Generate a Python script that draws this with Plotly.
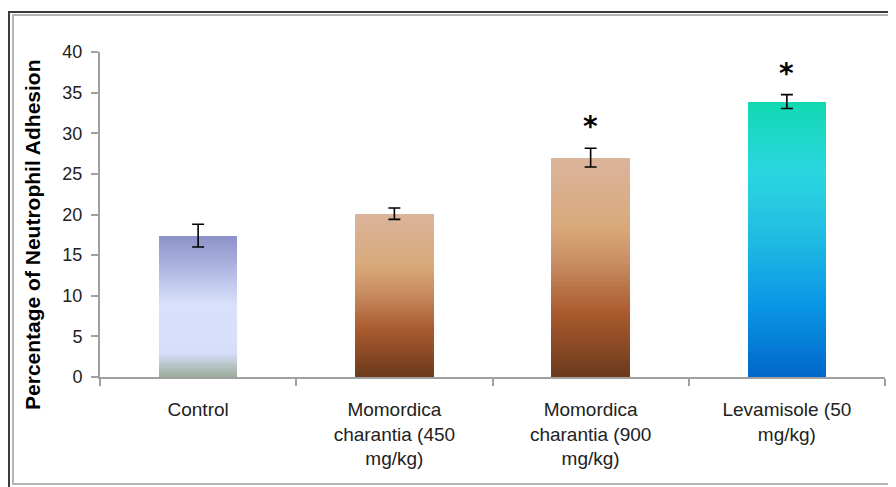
import plotly.graph_objects as go

categories = ["Control",
              "Momordica<br>charantia (450<br>mg/kg)",
              "Momordica<br>charantia (900<br>mg/kg)",
              "Levamisole (50<br>mg/kg)"]
values = [17.4, 20.1, 27.0, 33.9]
errors = [1.4, 0.7, 1.15, 0.85]
significance = ["", "", "*", "*"]
y_ticks = [0, 5, 10, 15, 20, 25, 30, 35, 40]

# gradient stops (fraction of bar height from bottom, colour) per bar
gradients = [
    [(0.0, "#9aac98"), (0.17, "#d6defa"), (0.52, "#d8e0fc"), (0.75, "#b2b9e3"), (1.0, "#8c91c8")],
    [(0.0, "#6b3a1c"), (0.29, "#a95a2e"), (0.515, "#c88c62"), (0.68, "#d9a97a"), (1.0, "#dab49c")],
    [(0.0, "#6b3a1c"), (0.29, "#a95a2e"), (0.515, "#c88c62"), (0.68, "#d9a97a"), (1.0, "#dab49c")],
    [(0.0, "#0068c8"), (0.26, "#0a96e6"), (0.52, "#22bde2"), (0.74, "#2ad6e0"), (1.0, "#12d9b2")],
]


def hex2rgb(h):
    h = h.lstrip("#")
    return tuple(int(h[i:i + 2], 16) for i in (0, 2, 4))


def interp(stops, f):
    for (f0, c0), (f1, c1) in zip(stops[:-1], stops[1:]):
        if f0 <= f <= f1:
            t = (f - f0) / (f1 - f0) if f1 > f0 else 0
            a, b = hex2rgb(c0), hex2rgb(c1)
            r = [round(a[k] + (b[k] - a[k]) * t) for k in range(3)]
            return "rgb(%d,%d,%d)" % tuple(r)
    return stops[-1][1]


N = 60
fig = go.Figure()
for i in range(N):
    f = (i + 0.5) / N
    fig.add_trace(go.Bar(
        x=categories,
        y=[v / N for v in values],
        marker=dict(color=[interp(g, f) for g in gradients], line=dict(width=0)),
        width=0.4,
        showlegend=False,
        hoverinfo="skip",
    ))

fig.add_trace(go.Scatter(
    x=categories, y=values, mode="markers",
    marker=dict(size=1, opacity=0),
    error_y=dict(type="data", array=errors, visible=True,
                 color="black", thickness=1.6, width=6),
    showlegend=False,
))

for c, v, e, s in zip(categories, values, errors, significance):
    if s:
        fig.add_annotation(x=c, y=v + e, text="<b>" + s + "</b>", showarrow=False,
                           yanchor="bottom", yshift=3,
                           font=dict(family="DejaVu Sans", size=28, color="black"))

fig.add_annotation(text="<b>Percentage of Neutrophil Adhesion</b>",
                   xref="paper", yref="paper", x=-0.0854, y=0.437,
                   xanchor="center", yanchor="middle",
                   textangle=-90, showarrow=False,
                   font=dict(family="Liberation Sans, Arial", size=21, color="black"))

# outer frame
fig.add_shape(type="rect", xref="paper", yref="paper",
              x0=-0.1159, x1=1.2, y0=-0.5, y1=1.123,
              line=dict(color="#3a3a3a", width=2), layer="below")
fig.add_shape(type="rect", xref="paper", yref="paper",
              x0=-0.1108, x1=1.2, y0=-0.329, y1=1.114,
              line=dict(color="#b4b4b4", width=2), layer="below")

fig.update_layout(
    width=888, height=479,
    margin=dict(l=92, r=11, t=44, b=110),
    paper_bgcolor="white", plot_bgcolor="white",
    barmode="stack", bargap=0.6,
    font=dict(family="Liberation Sans, Arial", size=18, color="#222"),
    xaxis=dict(showline=True, linecolor="#a0a0a0", linewidth=2,
               ticks="outside", tickson="boundaries", ticklen=7,
               tickcolor="#a0a0a0", tickwidth=2, showgrid=False,
               ticklabelstandoff=14,
               tickfont=dict(size=19)),
    yaxis=dict(range=[0, 40], tickvals=y_ticks, showline=True,
               linecolor="#a0a0a0", linewidth=2, ticks="outside",
               ticklen=7, tickcolor="#a0a0a0", tickwidth=2,
               ticklabelstandoff=5,
               showgrid=False, zeroline=False, tickfont=dict(size=18)),
)

fig.write_html("out.html")
